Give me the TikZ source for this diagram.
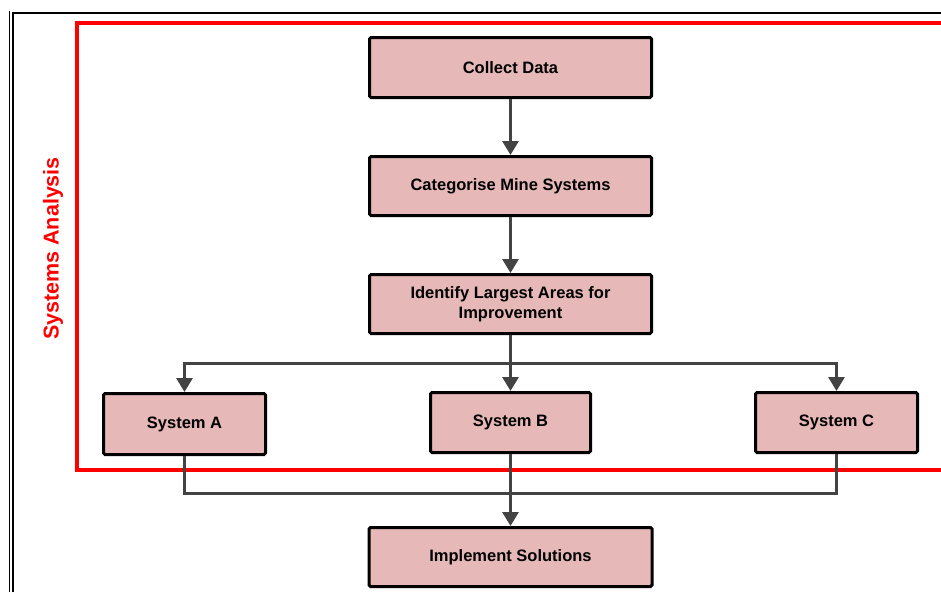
\documentclass[tikz,border=0pt]{standalone}
\usepackage{fontspec}
\setmainfont{Liberation Sans}
\usetikzlibrary{arrows.meta}
\definecolor{boxfill}{HTML}{E6B8B7}
\definecolor{conn}{HTML}{434343}
\definecolor{redline}{HTML}{FF0000}
\begin{document}
\begin{tikzpicture}[x=1pt,y=-1pt,
  stepbox/.style={draw=black, line width=3pt, fill=boxfill, rounded corners=1.5pt,
    inner sep=0pt, align=center, font=\bfseries\fontsize{16.5}{19.5}\selectfont},
  conline/.style={draw=conn, line width=3pt},
  conarrow/.style={conline, -{Triangle[width=16pt,length=14pt]}}]
\useasboundingbox (0,0) rectangle (941,592);
% page border
\draw[black, line width=1pt] (9.5,11) -- (9.5,592);
\draw[black, line width=2pt] (12.7,592) -- (12.7,13) -- (941,13);
% red group frame
\draw[redline, line width=4pt] (941,23) -- (77,23) -- (77,470) -- (941,470);
\node[rotate=90, text=redline, font=\bfseries\fontsize{21.5}{25}\selectfont] (lbl) at (53,248.5) {Systems Analysis};
% boxes
\node[stepbox, minimum width=282pt, minimum height=60pt] (cd) at (510.5,67.5) {Collect Data};
\node[stepbox, minimum width=282pt, minimum height=59pt] (cat) at (510.5,186) {Categorise Mine Systems};
\node[stepbox, minimum width=282pt, minimum height=59pt] (id) at (510.5,304) {Identify Largest Areas for\\Improvement};
\node[stepbox, minimum width=162pt, minimum height=61pt] (sa) at (184.5,424) {System A};
\node[stepbox, minimum width=160pt, minimum height=60pt] (sb) at (510.5,422.5) {System B};
\node[stepbox, minimum width=162pt, minimum height=60pt] (sc) at (836.5,422.5) {System C};
\node[stepbox, minimum width=283pt, minimum height=59pt] (im) at (510.5,557) {Implement Solutions};
% connectors
\coordinate (split) at (510.5,363);
\coordinate (merge) at (510.5,493);
\draw[conarrow] (cd.south) -- (cat.north);
\draw[conarrow] (cat.south) -- (id.north);
\draw[conline] (id.south) -- (split);
\draw[conarrow] (split) -| (sa.north);
\draw[conarrow] (split) -| (sc.north);
\draw[conarrow] (split) -- (sb.north);
\draw[conline] (sa.south) |- (merge);
\draw[conline] (sc.south) |- (merge);
\draw[conarrow] (sb.south) -- (im.north);
\end{tikzpicture}
\end{document}
